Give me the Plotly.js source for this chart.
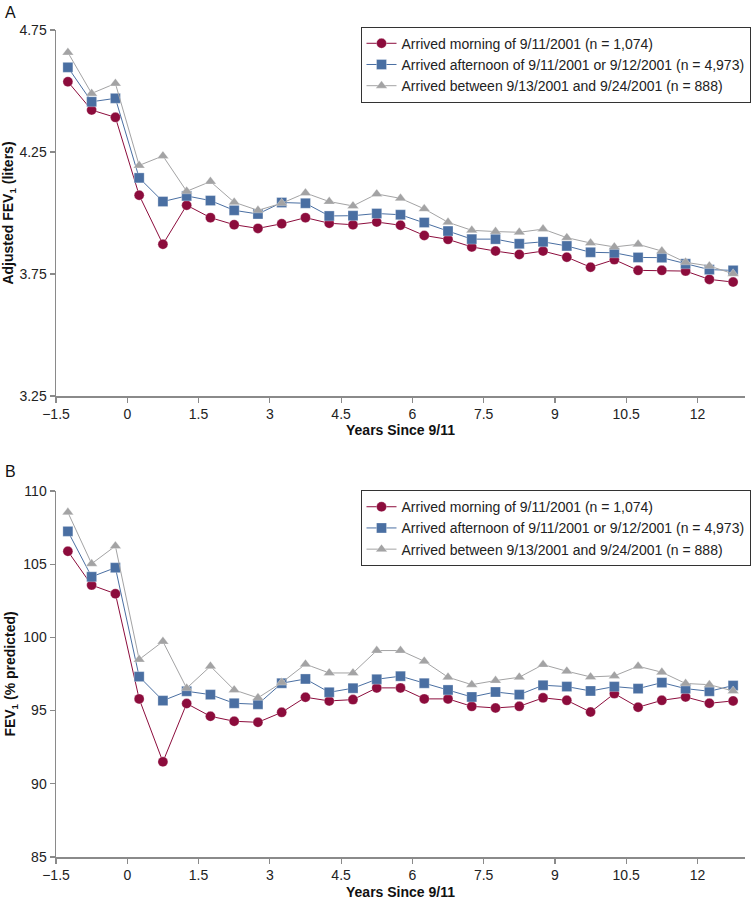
<!DOCTYPE html>
<html>
<head>
<meta charset="utf-8">
<script src="https://cdn.plot.ly/plotly-3.0.1.min.js"></script>
<style>html,body{margin:0;padding:0;background:#fff;}#chart{width:751px;height:901px;}</style>
</head>
<body>
<div id="chart"></div>
<script>
// Years since 9/11 (midpoints of half-year windows)
const years = [-1.25,-0.75,-0.25,0.25,0.75,1.25,1.75,2.25,2.75,3.25,3.75,4.25,4.75,5.25,5.75,6.25,6.75,7.25,7.75,8.25,8.75,9.25,9.75,10.25,10.75,11.25,11.75,12.25,12.75];

const seriesNames = [
  "Arrived morning of 9/11/2001 (n = 1,074)",
  "Arrived afternoon of 9/11/2001 or 9/12/2001 (n = 4,973)",
  "Arrived between 9/13/2001 and 9/24/2001 (n = 888)"
];

// Panel A: Adjusted FEV1 (liters)
const fevMorning = [4.538,4.422,4.392,4.073,3.872,4.032,3.981,3.952,3.937,3.956,3.981,3.958,3.952,3.963,3.950,3.908,3.892,3.861,3.844,3.830,3.844,3.819,3.778,3.809,3.765,3.765,3.762,3.728,3.717];
const fevAfternoon = [4.597,4.456,4.470,4.144,4.047,4.070,4.051,4.011,3.996,4.043,4.040,3.988,3.989,3.998,3.993,3.961,3.926,3.893,3.893,3.874,3.882,3.865,3.839,3.837,3.818,3.817,3.792,3.768,3.765];
const fevLater = [4.658,4.490,4.531,4.195,4.234,4.089,4.129,4.044,4.011,4.040,4.082,4.047,4.029,4.078,4.060,4.017,3.962,3.929,3.924,3.921,3.934,3.899,3.877,3.861,3.872,3.844,3.798,3.783,3.751];

// Panel B: FEV1 (% predicted)
const pctMorning = [105.88,103.57,102.98,95.80,91.50,95.48,94.61,94.27,94.20,94.88,95.91,95.66,95.75,96.55,96.55,95.80,95.80,95.29,95.18,95.29,95.87,95.70,94.90,96.16,95.23,95.70,95.93,95.50,95.66];
const pctAfternoon = [107.24,104.14,104.76,97.32,95.68,96.32,96.09,95.50,95.43,96.87,97.16,96.25,96.53,97.14,97.35,96.87,96.41,95.93,96.27,96.09,96.73,96.64,96.34,96.64,96.50,96.91,96.50,96.32,96.71];
const pctLater = [108.54,105.03,106.24,98.49,99.72,96.53,98.03,96.41,95.87,96.91,98.17,97.57,97.57,99.10,99.10,98.37,97.28,96.77,97.05,97.28,98.14,97.69,97.30,97.37,98.03,97.62,96.85,96.77,96.34];

const xTicks = [-1.5,0,1.5,3,4.5,6,7.5,9,10.5,12];
const yTicksA = [3.25,3.75,4.25,4.75];
const yTicksB = [85,90,95,100,105,110];

const colors = ['#8c0c3c','#4a6fa2','#a3a3a4'];
const symbols = ['circle','square','triangle-up'];
const sizes = [10,10,10];
const font = 'Liberation Sans, Arial, Helvetica, sans-serif';

function mk(y, i, xa, ya, leg) {
  return {
    x: years, y: y, name: seriesNames[i], type: 'scatter', mode: 'lines+markers',
    xaxis: xa, yaxis: ya, legend: leg, cliponaxis: false,
    line: {color: colors[i], width: 1},
    marker: {symbol: symbols[i], color: colors[i], size: sizes[i], line: {color: 'rgba(255,255,255,0.5)', width: 0.6}}
  };
}

const data = [
  mk(fevMorning,0,'x','y','legend'),
  mk(fevAfternoon,1,'x','y','legend'),
  mk(fevLater,2,'x','y','legend'),
  mk(pctMorning,0,'x2','y2','legend2'),
  mk(pctAfternoon,1,'x2','y2','legend2'),
  mk(pctLater,2,'x2','y2','legend2')
];

const axCommon = {
  showgrid: false, zeroline: false, showline: true, linecolor: '#8a8a8a', linewidth: 1.5,
  ticks: 'outside', ticklen: 5, tickwidth: 1.2, tickcolor: '#8a8a8a',
  tickfont: {family: font, size: 14, color: '#222'}
};

function xax(anchor, standoff) {
  return Object.assign({}, axCommon, {
    anchor: anchor, range: [-1.5, 13], tickvals: xTicks, ticktext: xTicks.map(v => v < 0 ? '\u2212' + Math.abs(v) : String(v)),
    title: {text: '<b>Years Since 9/11</b>', font: {family: font, size: 14, color: '#111'}, standoff: standoff}
  });
}

const legendCommon = {
  x: 1.008, xanchor: 'right', yanchor: 'top', bgcolor: '#fff', bordercolor: '#333', borderwidth: 1,
  font: {family: font, size: 14, color: '#222'}, tracegroupgap: 0, itemwidth: 30
};

const layout = {
  width: 751, height: 901,
  margin: {l: 56, r: 0, t: 30, b: 44},
  paper_bgcolor: '#fff', plot_bgcolor: '#fff',
  showlegend: true,
  xaxis: xax('y', 3),
  yaxis: Object.assign({}, axCommon, {
    domain: [0.5574, 1], anchor: 'x', range: [3.25, 4.75], tickvals: yTicksA, ticktext: yTicksA.map(v => v.toFixed(2)),
    title: {text: '<b>Adjusted FEV<sub>1</sub> (liters)</b>', font: {family: font, size: 14, color: '#111'}, standoff: 4}
  }),
  xaxis2: xax('y2', 5),
  yaxis2: Object.assign({}, axCommon, {
    domain: [0, 0.4426], anchor: 'x2', range: [85, 110], tickvals: yTicksB,
    title: {text: '<b>FEV<sub>1</sub> (% predicted)</b>', font: {family: font, size: 14, color: '#111'}, standoff: 4}
  }),
  legend: Object.assign({}, legendCommon, {y: 1.004}),
  legend2: Object.assign({}, legendCommon, {y: 0.4436}),
  annotations: [
    {text: 'A', xref: 'paper', yref: 'paper', x: -0.077, y: 1.034, xanchor: 'left', yanchor: 'top', showarrow: false, font: {family: font, size: 16, color: '#111'}},
    {text: 'B', xref: 'paper', yref: 'paper', x: -0.077, y: 0.479, xanchor: 'left', yanchor: 'top', showarrow: false, font: {family: font, size: 16, color: '#111'}}
  ]
};

Plotly.newPlot('chart', data, layout, {displayModeBar: false, staticPlot: true});
</script>
</body>
</html>
